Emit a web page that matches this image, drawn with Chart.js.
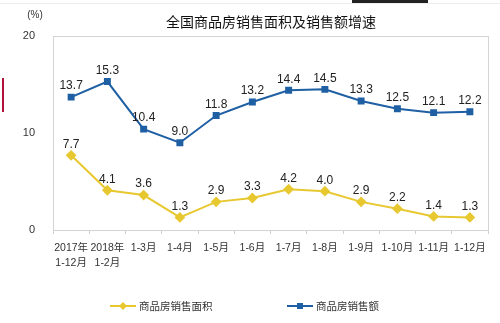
<!DOCTYPE html>
<html>
<head>
<meta charset="utf-8">
<script src="https://cdn.jsdelivr.net/npm/chart.js@4/dist/chart.umd.min.js"></script>
<style>
  html, body { margin: 0; padding: 0; background: #fff; }
  #wrap { position: relative; width: 500px; height: 323px; }
  #redmark { position: absolute; left: 2px; top: 78px; width: 2px; height: 34px; background: #b0103a; }
  #topmark { position: absolute; left: 352px; top: 0; width: 76px; height: 3px; background: #222; }
  #topline { position: absolute; left: 0; top: 3px; width: 500px; height: 1px; background: #ececec; }
</style>
</head>
<body>
<div id="wrap">
  <canvas id="chart" width="500" height="323"></canvas>
  <div id="topline"></div>
  <div id="redmark"></div>
  <div id="topmark"></div>
</div>
<script>
const categories = [["2017年", "1-12月"], ["2018年", "1-2月"], "1-3月", "1-4月", "1-5月", "1-6月",
                    "1-7月", "1-8月", "1-9月", "1-10月", "1-11月", "1-12月"];
const areaGrowth = [7.7, 4.1, 3.6, 1.3, 2.9, 3.3, 4.2, 4.0, 2.9, 2.2, 1.4, 1.3];
const salesGrowth = [13.7, 15.3, 10.4, 9.0, 11.8, 13.2, 14.4, 14.5, 13.3, 12.5, 12.1, 12.2];
const yTicks = [0, 10, 20];

const BLUE = "#1f5fa3";
const YELLOW = "#e8c830";
const FONT = "'Liberation Sans', 'Noto Sans CJK SC', sans-serif";

// value labels, border box, title, unit and legend
const decorations = {
    id: "decorations",
    afterDatasetsDraw(chart) {
        const ctx = chart.ctx;
        const area = chart.chartArea;
        ctx.save();
        ctx.strokeStyle = "#d4d4d4";
        ctx.lineWidth = 1;
        ctx.strokeRect(area.left + 0.5, area.top + 0.5, area.right - area.left, area.bottom - area.top);

        ctx.fillStyle = "#222";
        ctx.font = "12px " + FONT;
        ctx.textAlign = "center";
        ctx.textBaseline = "bottom";
        chart.data.datasets.forEach((ds, i) => {
            chart.getDatasetMeta(i).data.forEach((pt, j) => {
                ctx.fillText(ds.data[j].toFixed(1), pt.x, pt.y - 5);
            });
        });

        ctx.font = "14px 'Noto Sans CJK SC', sans-serif";
        ctx.fillStyle = "#111";
        ctx.textBaseline = "middle";
        ctx.fillText("全国商品房销售面积及销售额增速", 271, 22);

        ctx.font = "10px " + FONT;
        ctx.fillStyle = "#333";
        ctx.fillText("(%)", 35, 15);

        // legend
        const items = [
            { label: "商品房销售面积", color: YELLOW, style: "rectRot", x: 110 },
            { label: "商品房销售额", color: BLUE, style: "rect", x: 287 }
        ];
        ctx.font = "10.5px 'Noto Sans CJK SC', sans-serif";
        ctx.textAlign = "left";
        items.forEach(it => {
            const y = 306;
            ctx.strokeStyle = it.color;
            ctx.lineWidth = 2;
            ctx.beginPath();
            ctx.moveTo(it.x, y);
            ctx.lineTo(it.x + 26, y);
            ctx.stroke();
            ctx.fillStyle = it.color;
            if (it.style === "rect") {
                ctx.fillRect(it.x + 10, y - 3, 6, 6);
            } else {
                ctx.beginPath();
                ctx.moveTo(it.x + 13, y - 4);
                ctx.lineTo(it.x + 17, y);
                ctx.lineTo(it.x + 13, y + 4);
                ctx.lineTo(it.x + 9, y);
                ctx.closePath();
                ctx.fill();
            }
            ctx.fillStyle = "#333";
            ctx.fillText(it.label, it.x + 29, y);
        });
        ctx.restore();
    }
};

new Chart(document.getElementById("chart"), {
    type: "line",
    data: {
        labels: categories,
        datasets: [
            {
                label: "商品房销售面积",
                data: areaGrowth,
                borderColor: YELLOW,
                backgroundColor: YELLOW,
                borderWidth: 2,
                pointStyle: "rectRot",
                pointRadius: 4,
                tension: 0
            },
            {
                label: "商品房销售额",
                data: salesGrowth,
                borderColor: BLUE,
                backgroundColor: BLUE,
                borderWidth: 2,
                pointStyle: "rect",
                pointRadius: 3.5,
                tension: 0
            }
        ]
    },
    options: {
        responsive: false,
        animation: false,
        layout: { padding: { top: 36, right: 12, bottom: 50, left: 0 } },
        plugins: {
            legend: { display: false },
            title: { display: false },
            tooltip: { enabled: false }
        },
        scales: {
            x: {
                offset: true,
                grid: { display: true, drawOnChartArea: false, offset: true, tickLength: 4, color: "#cfcfcf" },
                border: { color: "#cfcfcf" },
                ticks: { color: "#333", font: { size: 10.5, family: FONT, lineHeight: 1.45 }, maxRotation: 0, autoSkip: false, padding: 6 },
                afterFit(scale) { scale.height = 43; }
            },
            y: {
                min: 0,
                max: 20,
                afterBuildTicks(scale) { scale.ticks = yTicks.map(v => ({ value: v })); },
                grid: { display: false },
                border: { color: "#cfcfcf" },
                ticks: { color: "#333", font: { size: 11, family: FONT }, padding: 10 },
                afterFit(scale) { scale.width = 53; }
            }
        }
    },
    plugins: [decorations]
});
</script>
</body>
</html>
